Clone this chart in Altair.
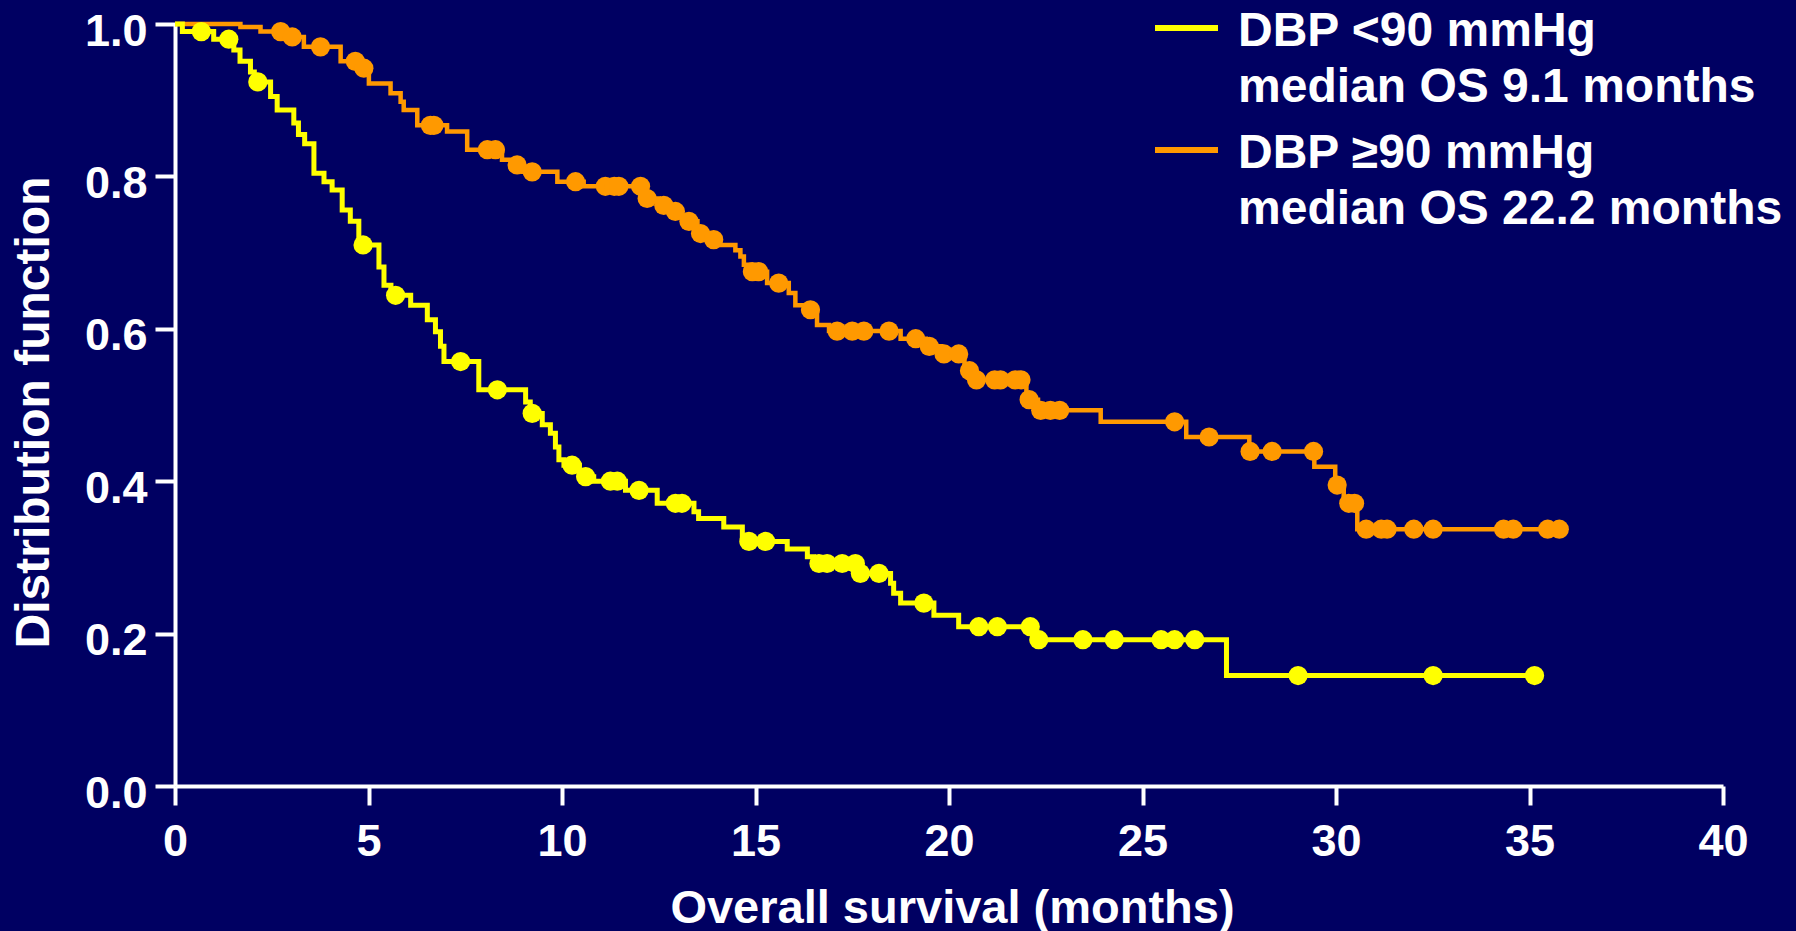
import altair as alt
import numpy as np
import pandas as pd

FONT = "Liberation Sans"

# Kaplan-Meier curves: time of each drop (months) and survival just after it
low_times = [0.19, 1.00, 1.52, 1.68, 1.95, 2.05, 2.47, 2.64, 3.07, 3.19, 3.35, 3.59,
             3.85, 4.06, 4.32, 4.53, 4.75, 5.27, 5.40, 5.58, 6.09, 6.52, 6.73, 6.86,
             6.95, 7.85, 9.06, 9.18, 9.49, 9.70, 9.83, 9.92, 10.05, 10.45, 10.82, 11.64,
             12.46, 13.41, 13.53, 14.18, 14.66, 15.82, 16.34, 16.50, 17.65, 18.49, 18.57,
             18.75, 19.61, 20.25, 22.20, 27.17]
low_surv = [0.990, 0.980, 0.966, 0.951, 0.937, 0.924, 0.905, 0.887, 0.870, 0.855, 0.843, 0.804,
            0.793, 0.782, 0.756, 0.741, 0.710, 0.681, 0.657, 0.644, 0.631, 0.612, 0.596, 0.577,
            0.557, 0.520, 0.504, 0.489, 0.474, 0.463, 0.445, 0.428, 0.421, 0.406, 0.400, 0.388,
            0.371, 0.360, 0.351, 0.340, 0.321, 0.311, 0.301, 0.292, 0.279, 0.266, 0.253,
            0.240, 0.224, 0.209, 0.192, 0.145]
low_censor = [0.68, 1.39, 2.14, 4.86, 5.70, 7.38, 8.33, 9.23, 10.26, 10.61, 11.25, 11.43,
              11.99, 12.93, 13.10, 14.83, 15.26, 16.64, 16.85, 17.24, 17.58, 17.71, 18.19,
              19.35, 20.77, 21.25, 22.10, 22.32, 23.46, 24.27, 25.48, 25.83, 26.35, 29.02,
              32.51, 35.13]
low_end = 35.13

high_times = [1.69, 2.21, 2.90, 3.33, 4.28, 4.80, 5.01, 5.57, 5.83, 5.91, 6.26, 7.03,
              7.55, 8.45, 8.70, 9.00, 9.88, 10.56, 12.10, 12.50, 12.85, 13.00, 13.20, 13.50,
              13.85, 14.00, 14.48, 14.61, 14.70, 14.85, 15.30, 15.86, 16.03, 16.30, 16.59,
              16.90, 18.75, 19.40, 19.80, 20.40, 20.65, 22.00, 22.30, 23.92, 26.13, 27.76,
              29.44, 29.98, 30.20, 30.55]
high_surv = [0.996, 0.990, 0.983, 0.970, 0.951, 0.942, 0.922, 0.909, 0.898, 0.887, 0.867, 0.859,
             0.835, 0.822, 0.815, 0.806, 0.793, 0.787, 0.771, 0.762, 0.754, 0.747, 0.741, 0.725,
             0.717, 0.710, 0.703, 0.695, 0.684, 0.675, 0.660, 0.647, 0.631, 0.625, 0.605,
             0.597, 0.587, 0.577, 0.567, 0.545, 0.533, 0.507, 0.493, 0.478, 0.458, 0.439,
             0.419, 0.395, 0.371, 0.337]
high_censor = [2.73, 3.03, 3.76, 4.66, 4.88, 6.60, 6.69, 8.07, 8.28, 8.84, 9.23, 10.35,
               11.12, 11.35, 11.47, 12.03, 12.20, 12.63, 12.93, 13.28, 13.58, 13.92, 14.92,
               15.08, 15.60, 16.42, 17.11, 17.50, 17.80, 18.45, 19.14, 19.49, 19.87, 20.25,
               20.53, 20.71, 21.18, 21.33, 21.71, 21.86, 22.07, 22.37, 22.62, 22.86, 25.83,
               26.72, 27.78, 28.35, 29.42, 30.03, 30.33, 30.48, 30.78, 31.17, 31.32, 32.01,
               32.51, 34.33, 34.58, 35.47, 35.77]
high_end = 35.77

groups = ["DBP <90 mmHg", "DBP \u226590 mmHg"]
medians = ["median OS 9.1 months", "median OS 22.2 months"]
colors = ["#FFFF00", "#FF9900"]
x_ticks = [0, 5, 10, 15, 20, 25, 30, 35, 40]
y_ticks = [0.0, 0.2, 0.4, 0.6, 0.8, 1.0]


def step_curve(group, times, surv, end):
    t = [0.0] + list(times) + [end]
    s = [1.0] + list(surv) + [surv[-1]]
    return pd.DataFrame({"group": group, "t": t, "s": s, "order": range(len(t))})


def censor_marks(group, times, surv, cens):
    idx = np.searchsorted(np.array(times), np.array(cens), side="right") - 1
    levels = [1.0 if i < 0 else surv[i] for i in idx]
    return pd.DataFrame({"group": group, "t": cens, "s": levels})


curves = {
    groups[0]: (step_curve(groups[0], low_times, low_surv, low_end),
                censor_marks(groups[0], low_times, low_surv, low_censor)),
    groups[1]: (step_curve(groups[1], high_times, high_surv, high_end),
                censor_marks(groups[1], high_times, high_surv, high_censor)),
}

x_enc = alt.X(
    "t:Q",
    scale=alt.Scale(domain=[0, 40], nice=False, zero=False),
    axis=alt.Axis(
        values=x_ticks, format="d", title="Overall survival (months)",
        tickSize=19, labelPadding=14, labelFlush=False, labelOverlap=False,
        labelFontSize=45, titleFontSize=47,
        titleX=777, titleY=136, titleBaseline="alphabetic", titleAlign="center",
    ),
)
y_enc = alt.Y(
    "s:Q",
    scale=alt.Scale(domain=[0, 1], nice=False),
    axis=alt.Axis(
        values=y_ticks, format=".1f", title="Distribution function",
        tickSize=20, labelPadding=8, labelBaseline="middle", labelOffset=7,
        labelFlush=False, labelOverlap=False,
        labelFontSize=45, titleFontSize=48,
        titleAngle=270, titleX=-127, titleY=388, titleBaseline="alphabetic",
        titleAlign="center",
    ),
)
color_enc = alt.Color("group:N", scale=alt.Scale(domain=groups, range=colors), legend=None)

line_widths = {groups[0]: 5, groups[1]: 4.5}
layers = []
for g in [groups[1], groups[0]]:
    df_line, _ = curves[g]
    layers.append(
        alt.Chart(df_line).mark_line(interpolate="step-after", strokeWidth=line_widths[g],
                                     strokeCap="butt", strokeJoin="miter")
        .encode(x=x_enc, y=y_enc, color=color_enc, order="order:Q")
    )
for g in [groups[1], groups[0]]:
    _, df_pts = curves[g]
    layers.append(
        alt.Chart(df_pts).mark_circle(size=370, opacity=1)
        .encode(x=x_enc, y=y_enc, color=color_enc)
    )

# Legend: swatch line plus a two-line label per group
legend_rows = [(4, 22), (126, 144)]
for (g, m, c), (line_y, text_y) in zip(zip(groups, medians, colors), legend_rows):
    label_df = pd.DataFrame({"label": [g + "\n" + m]})
    layers.append(
        alt.Chart(label_df).mark_rule(color=c, strokeWidth=6, strokeCap="butt")
        .encode(x=alt.value(980), x2=alt.value(1043), y=alt.value(line_y))
    )
    layers.append(
        alt.Chart(label_df).mark_text(
            align="left", baseline="alphabetic", lineBreak="\n", lineHeight=56,
            font=FONT, fontSize=48, fontWeight="bold", color="white",
        ).encode(x=alt.value(1063), y=alt.value(text_y), text="label:N")
    )

chart = (
    alt.layer(*layers)
    .properties(
        width=1548, height=762,
        padding={"left": 175, "top": 24, "right": 73, "bottom": 145},
        autosize=alt.AutoSizeParams(type="none"),
        background="#000062",
    )
    .configure_view(stroke=None)
    .configure_axis(
        grid=False, domainColor="white", domainWidth=4, tickColor="white", tickWidth=4,
        labelColor="white", titleColor="white", labelFont=FONT, titleFont=FONT,
        labelFontWeight="bold", titleFontWeight="bold",
    )
)

chart.save("out.html", embed_options={"renderer": "svg", "actions": False})
